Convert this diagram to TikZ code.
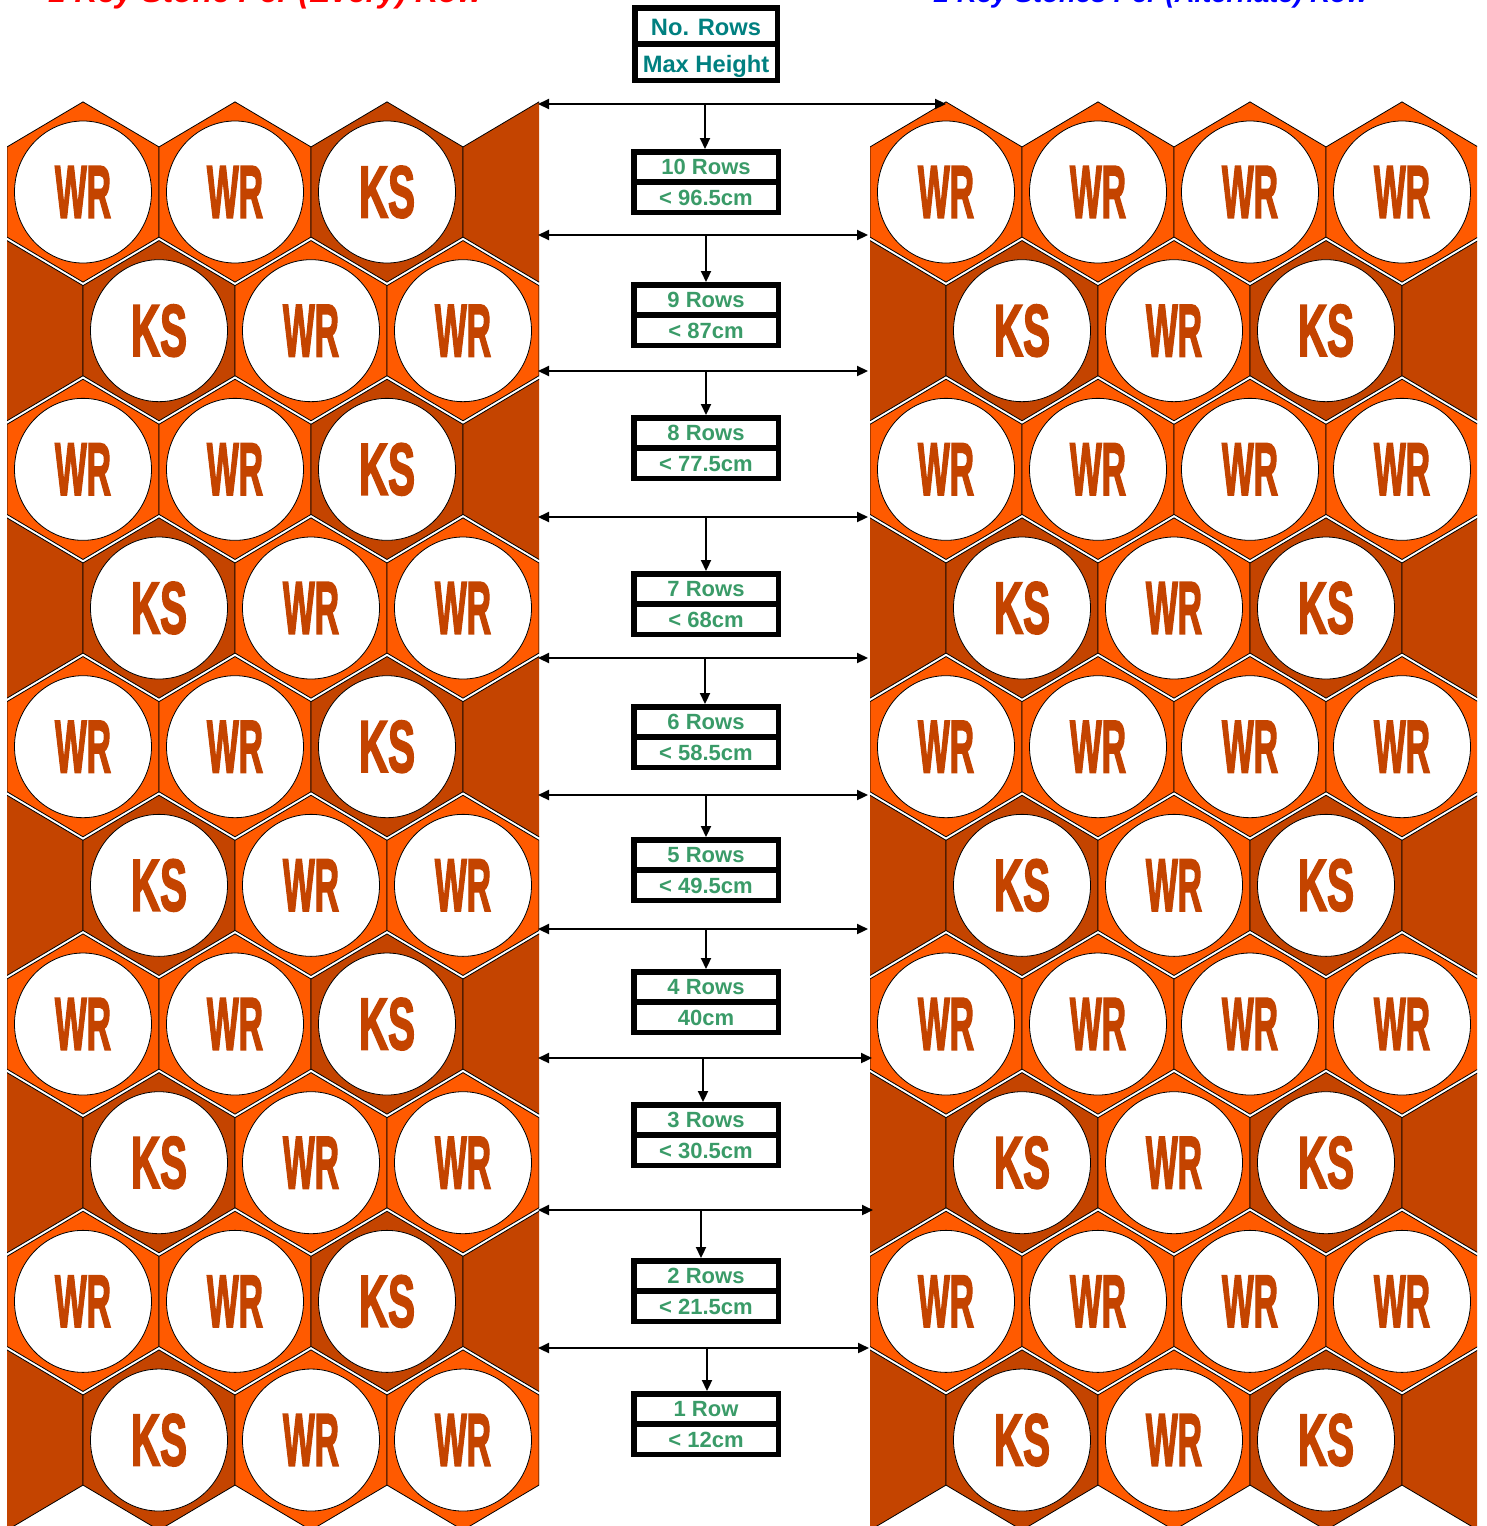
\documentclass[tikz,border=0pt]{standalone}
\usepackage{fontspec}
\setmainfont{Liberation Sans}
\newfontface\stonefont[FakeBold=3]{Liberation Sans Bold}
\usetikzlibrary{arrows.meta}
\definecolor{hexbright}{HTML}{FF5A00}
\definecolor{hexdark}{HTML}{C44400}
\definecolor{boxgreen}{HTML}{3A9B68}
\definecolor{headteal}{HTML}{008080}
\newcommand{\hexcell}[3]{%
  \filldraw[fill=#3, draw=black, line width=0.8pt] ({#1},{#2-90.1}) -- ({#1+76},{#2-45.05}) -- ({#1+76},{#2+45.05}) -- ({#1},{#2+90.1}) -- ({#1-76},{#2+45.05}) -- ({#1-76},{#2-45.05}) -- cycle;}
\newcommand{\stone}[4]{%
  \draw[fill=white, line width=0.8pt] ({#2},{#3}) ellipse [x radius=68.5, y radius=71];
  \node[stonetext] (#1) at ({#2},{#3}) {\resizebox{56pt}{51pt}{#4}};}
\newcommand{\rowbox}[4]{% name, top y, line1, line2
  \node[rowbox] (#1) at (706,{#2+33}) {};
  \draw[line width=5.5pt] (#1.west) -- (#1.east);
  \node[rowtxt, anchor=base] (#1-a) at (706,{#2+25}) {#3};
  \node[rowtxt, anchor=base] (#1-b) at (706,{#2+56.5}) {#4};}
\tikzset{
  stonetext/.style={inner sep=0pt, text=hexdark, font=\stonefont},
  rowbox/.style={draw=black, line width=5.5pt, minimum width=144.5pt, minimum height=60.5pt, inner sep=0pt},
  headbox/.style={draw=black, line width=5.5pt, minimum width=142.5pt, minimum height=72.5pt, inner sep=0pt},
  rowtxt/.style={inner sep=0pt, text=boxgreen, font=\fontsize{22}{26}\selectfont\bfseries},
  headtxt/.style={inner sep=0pt, text=headteal, font=\fontsize{23.7}{28}\selectfont\bfseries},
  dimarrow/.style={line width=2.2pt, {Triangle[length=11pt,width=10pt]}-{Triangle[length=11pt,width=10pt]}},
  droparrow/.style={line width=2.2pt, -{Triangle[length=11pt,width=10pt]}},
  titletxt/.style={inner sep=0pt, anchor=base west, font=\bfseries\itshape}
}
\begin{document}
\begin{tikzpicture}[x=1pt,y=-1pt]
\useasboundingbox (0,0) rectangle (1486,1526);
% titles (cut by the top edge)
\node[titletxt, text=red] (titleL) at (48,2) {\resizebox{434pt}{!}{1 Key Stone Per (Every) Row}};
\node[titletxt, text=blue] (titleR) at (934,2) {\resizebox{434pt}{!}{2 Key Stones Per (Alternate) Row}};
% left panel
\begin{scope}
\clip (7,0) rectangle (539,1526);
\foreach \k in {0,...,9} {
  \pgfmathsetmacro\yy{192+\k*138.67}
  \ifodd\k
    \hexcell{7}{\yy}{hexdark}
    \hexcell{159}{\yy}{hexdark}
    \hexcell{311}{\yy}{hexbright}
    \hexcell{463}{\yy}{hexbright}
    \stone{L\k-a}{159}{\yy}{KS}
    \stone{L\k-b}{311}{\yy}{WR}
    \stone{L\k-c}{463}{\yy}{WR}
  \else
    \hexcell{83}{\yy}{hexbright}
    \hexcell{235}{\yy}{hexbright}
    \hexcell{387}{\yy}{hexdark}
    \hexcell{539}{\yy}{hexdark}
    \stone{L\k-a}{83}{\yy}{WR}
    \stone{L\k-b}{235}{\yy}{WR}
    \stone{L\k-c}{387}{\yy}{KS}
  \fi
}
\end{scope}
% right panel
\begin{scope}
\clip (870,0) rectangle (1477,1526);
\foreach \k in {0,...,9} {
  \pgfmathsetmacro\yy{192+\k*138.67}
  \ifodd\k
    \hexcell{870}{\yy}{hexdark}
    \hexcell{1022}{\yy}{hexdark}
    \hexcell{1174}{\yy}{hexbright}
    \hexcell{1326}{\yy}{hexdark}
    \hexcell{1478}{\yy}{hexdark}
    \stone{R\k-a}{1022}{\yy}{KS}
    \stone{R\k-b}{1174}{\yy}{WR}
    \stone{R\k-c}{1326}{\yy}{KS}
  \else
    \hexcell{946}{\yy}{hexbright}
    \hexcell{1098}{\yy}{hexbright}
    \hexcell{1250}{\yy}{hexbright}
    \hexcell{1402}{\yy}{hexbright}
    \stone{R\k-a}{946}{\yy}{WR}
    \stone{R\k-b}{1098}{\yy}{WR}
    \stone{R\k-c}{1250}{\yy}{WR}
    \stone{R\k-d}{1402}{\yy}{WR}
  \fi
}
\end{scope}
% header box
\node[headbox] (head) at (706,44) {};
\draw[line width=5.5pt] (head.west) -- (head.east);
\node[headtxt, anchor=base] (head-a) at (706,35) {No. Rows};
\node[headtxt, anchor=base] (head-b) at (706,72) {Max Height};
% row boxes
\rowbox{b10}{149}{10 Rows}{< 96.5cm}
\rowbox{b9}{282}{9 Rows}{< 87cm}
\rowbox{b8}{415}{8 Rows}{< 77.5cm}
\rowbox{b7}{571}{7 Rows}{< 68cm}
\rowbox{b6}{704}{6 Rows}{< 58.5cm}
\rowbox{b5}{837}{5 Rows}{< 49.5cm}
\rowbox{b4}{969}{4 Rows}{40cm}
\rowbox{b3}{1102}{3 Rows}{< 30.5cm}
\rowbox{b2}{1258}{2 Rows}{< 21.5cm}
\rowbox{b1}{1391}{1 Row}{< 12cm}
% dimension lines
\coordinate (h10l) at (538,104);  \coordinate (h10r) at (946,104);  \coordinate (v10) at (705,104);
\coordinate (h9l) at (538,235);   \coordinate (h9r) at (868,235);   \coordinate (v9) at (706,235);
\coordinate (h8l) at (538,371);   \coordinate (h8r) at (868,371);   \coordinate (v8) at (706,371);
\coordinate (h7l) at (538,517);   \coordinate (h7r) at (868,517);   \coordinate (v7) at (706,517);
\coordinate (h6l) at (538,658);   \coordinate (h6r) at (868,658);   \coordinate (v6) at (705,658);
\coordinate (h5l) at (538,795);   \coordinate (h5r) at (868,795);   \coordinate (v5) at (706,795);
\coordinate (h4l) at (538,929);   \coordinate (h4r) at (868,929);   \coordinate (v4) at (706,929);
\coordinate (h3l) at (538,1058);  \coordinate (h3r) at (872,1058);  \coordinate (v3) at (703,1058);
\coordinate (h2l) at (538,1210);  \coordinate (h2r) at (873,1210);  \coordinate (v2) at (701,1210);
\coordinate (h1l) at (538,1348);  \coordinate (h1r) at (869,1348);  \coordinate (v1) at (707,1348);
\foreach \n in {10,9,8,7,6,5,4,3,2,1} {
  \draw[dimarrow] (h\n l) -- (h\n r);
  \draw[droparrow] (v\n) -- (v\n |- b\n.north);
}
\end{tikzpicture}
\end{document}
